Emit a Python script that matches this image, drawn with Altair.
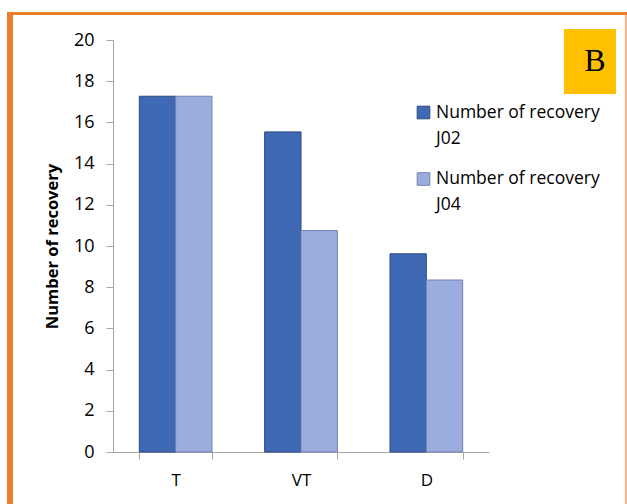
import altair as alt
import pandas as pd

categories = ["T", "VT", "D"]
series = ["Number of recovery J02", "Number of recovery J04"]
values_j02 = [17.27, 15.54, 9.62]
values_j04 = [17.27, 10.75, 8.35]
colors = ["#3F69B5", "#9BADDF"]
strokes = ["#2A4A82", "#7383B0"]
y_ticks = [0, 2, 4, 6, 8, 10, 12, 14, 16, 18, 20]
panel_label = "B"

rows = []
for c, a, b in zip(categories, values_j02, values_j04):
    rows.append({"cat": c, "series": series[0], "value": a})
    rows.append({"cat": c, "series": series[1], "value": b})
df = pd.DataFrame(rows)

W, H = 376, 412
FONT = "Open Sans"
ORANGE = "#ED7D31"

bars = alt.Chart(df).mark_bar(strokeWidth=1).encode(
    x=alt.X("cat:N", sort=categories, title=None,
            scale=alt.Scale(paddingInner=0.42, paddingOuter=0.21),
            axis=alt.Axis(tickBand="extent", labelAngle=0, labelFontSize=17,
                          labelFont=FONT, labelColor="#000000", labelPadding=13,
                          tickSize=7, domainColor="#A6A6A6", tickColor="#A6A6A6")),
    xOffset=alt.XOffset("series:N", sort=series),
    y=alt.Y("value:Q", title="Number of recovery",
            scale=alt.Scale(domain=[0, 20], nice=False),
            axis=alt.Axis(values=y_ticks, grid=False, labelFontSize=18, labelFont=FONT,
                          labelColor="#000000", tickSize=7, labelPadding=12,
                          domainColor="#A6A6A6", tickColor="#A6A6A6",
                          titleFont=FONT, titleFontSize=16.5, titleFontWeight="bold",
                          titleColor="#000000", titlePadding=13)),
    color=alt.Color("series:N", scale=alt.Scale(domain=series, range=colors), legend=None),
    stroke=alt.Stroke("series:N", scale=alt.Scale(domain=series, range=strokes), legend=None),
)

leg_df = pd.DataFrame({
    "series": series,
    "label": [s.replace(" J0", "\nJ0") for s in series],
    "yy": [72.5, 139],
})
leg_sq = alt.Chart(leg_df).mark_square(size=160, strokeWidth=1, opacity=1).encode(
    x=alt.value(310.5),
    y=alt.Y("yy:Q", scale=None),
    color=alt.Color("series:N", scale=alt.Scale(domain=series, range=colors), legend=None),
    stroke=alt.Stroke("series:N", scale=alt.Scale(domain=series, range=strokes), legend=None),
)
leg_txt = alt.Chart(leg_df).mark_text(align="left", baseline="middle", font=FONT,
                                      fontSize=17.5, lineBreak="\n", lineHeight=26,
                                      color="#000000").encode(
    x=alt.value(323),
    y=alt.Y("yy:Q", scale=None),
    text="label:N",
)

box_df = pd.DataFrame({"t": [panel_label]})
box = alt.Chart(box_df).mark_rect(color="#FFC000").encode(
    x=alt.value(451), x2=alt.value(503), y=alt.value(-11), y2=alt.value(54))
btxt = alt.Chart(box_df).mark_text(font="Liberation Serif", fontSize=32, color="#000000",
                                   baseline="middle", align="center").encode(
    x=alt.value(482), y=alt.value(21), text="t:N")

left_b = alt.Chart(box_df).mark_rule(color=ORANGE, strokeWidth=6).encode(
    x=alt.value(-103), y=alt.value(-28), y2=alt.value(470))
top_b = alt.Chart(box_df).mark_rule(color=ORANGE, strokeWidth=3).encode(
    x=alt.value(-106), x2=alt.value(514), y=alt.value(-26.5))
right_b = alt.Chart(box_df).mark_rule(color=ORANGE, strokeWidth=1.5, opacity=0.75).encode(
    x=alt.value(513), y=alt.value(-26.5), y2=alt.value(470))

chart = alt.layer(left_b, top_b, right_b, bars, box, btxt, leg_sq, leg_txt).properties(
    width=W, height=H,
    autosize=alt.AutoSizeParams(type="none"),
    padding={"left": 113, "top": 40, "right": 138, "bottom": 52},
    background="#FFFFFF",
).configure_view(stroke=None)

chart.save("out.html", embed_options={"renderer": "svg", "actions": False})
